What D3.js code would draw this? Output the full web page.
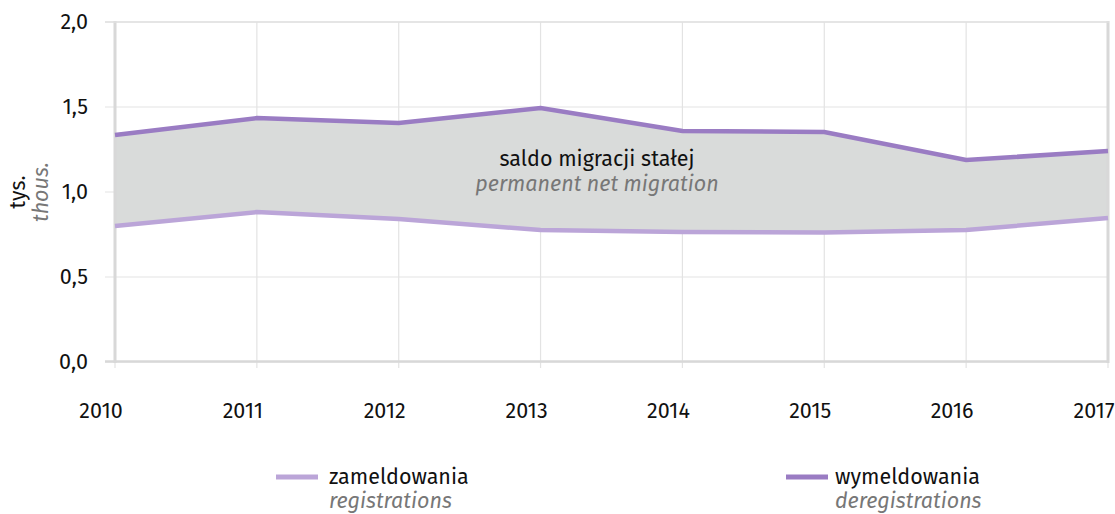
<!DOCTYPE html>
<html><head><meta charset="utf-8">
<script src="https://cdn.jsdelivr.net/npm/d3@7"></script>
<style>
body{margin:0;background:#fff;}
svg{font-family:"Fira Sans","Open Sans","Noto Sans",sans-serif;}
</style></head>
<body><svg id="c" width="1115" height="514"></svg>
<script>
const years = [2010,2011,2012,2013,2014,2015,2016,2017];
const registrations = [0.80,0.882,0.841,0.776,0.765,0.762,0.776,0.847];
const deregistrations = [1.335,1.435,1.406,1.494,1.359,1.353,1.188,1.241];
const yTicks = [0,0.5,1.0,1.5,2.0];

const FS = 21.5;
const svg = d3.select("#c");
const x = d3.scaleLinear().domain([2010,2017]).range([115,1108]);
const y = d3.scaleLinear().domain([0,2]).range([362,22]);
const fmt = d => d.toFixed(1).replace(".", ",");

// grid
svg.append("g").selectAll("line").data(yTicks).join("line")
  .attr("x1",105).attr("x2",1108).attr("y1",d=>y(d)).attr("y2",d=>y(d))
  .attr("stroke","#e3e3e3").attr("stroke-width",1.2);
svg.append("g").selectAll("line").data(years).join("line")
  .attr("x1",d=>x(d)).attr("x2",d=>x(d)).attr("y1",22).attr("y2",368)
  .attr("stroke","#e3e3e3").attr("stroke-width",1.2);

// area
const data = years.map((yr,i)=>({yr, lo:registrations[i], hi:deregistrations[i]}));
svg.append("path").datum(data)
  .attr("d", d3.area().x(d=>x(d.yr)).y0(d=>y(d.lo)).y1(d=>y(d.hi)))
  .attr("fill","#d9dbda");

// axes frame
svg.append("line").attr("x1",115).attr("x2",115).attr("y1",21).attr("y2",363).attr("stroke","#d8d8d8").attr("stroke-width",3);
svg.append("line").attr("x1",1108).attr("x2",1108).attr("y1",21).attr("y2",363).attr("stroke","#d8d8d8").attr("stroke-width",3);
svg.append("line").attr("x1",105).attr("x2",1109).attr("y1",361.5).attr("y2",361.5).attr("stroke","#d8d8d8").attr("stroke-width",2.5);
svg.append("line").attr("x1",105).attr("x2",1109).attr("y1",22).attr("y2",22).attr("stroke","#e0e0e0").attr("stroke-width",1.5);

// lines
svg.append("path").datum(registrations)
  .attr("d", d3.line().x((d,i)=>x(years[i])).y(d=>y(d)))
  .attr("fill","none").attr("stroke","#bba5d8").attr("stroke-width",4.5);
svg.append("path").datum(deregistrations)
  .attr("d", d3.line().x((d,i)=>x(years[i])).y(d=>y(d)))
  .attr("fill","none").attr("stroke","#9a7cc3").attr("stroke-width",4.5);

// y tick labels
svg.append("g").selectAll("text").data(yTicks).join("text")
  .attr("x",88).attr("y",d=>y(d)+7).attr("text-anchor","end")
  .attr("font-size",FS).attr("fill","#111").text(fmt);

// x tick labels
svg.append("g").selectAll("text").data(years).join("text")
  .attr("x",d=>x(d)-14).attr("y",418).attr("text-anchor","middle")
  .attr("font-size",FS).attr("fill","#111").text(d=>d);

// y axis title
const yt = svg.append("g").attr("transform","translate(0,192) rotate(-90)");
yt.append("text").attr("x",0).attr("y",25).attr("text-anchor","middle").attr("font-size",FS).attr("fill","#111").text("tys.");
yt.append("text").attr("x",0).attr("y",48).attr("text-anchor","middle").attr("font-size",FS).attr("font-style","italic").attr("fill","#777").text("thous.");

// center label
svg.append("text").attr("x",597).attr("y",166).attr("text-anchor","middle").attr("font-size",FS).attr("fill","#111").text("saldo migracji stałej");
svg.append("text").attr("x",597).attr("y",191).attr("text-anchor","middle").attr("font-size",FS).attr("font-style","italic").attr("fill","#777").text("permanent net migration");

// legend
const legend = [
  {x:276, tx:329, color:"#bba5d8", pl:"zameldowania", en:"registrations"},
  {x:786, tx:835, color:"#9a7cc3", pl:"wymeldowania", en:"deregistrations"}
];
const lg = svg.append("g").selectAll("g").data(legend).join("g");
lg.append("line").attr("x1",d=>d.x).attr("x2",d=>d.x+42).attr("y1",477).attr("y2",477)
  .attr("stroke",d=>d.color).attr("stroke-width",5);
lg.append("text").attr("x",d=>d.tx).attr("y",484).attr("font-size",FS).attr("fill","#111").text(d=>d.pl);
lg.append("text").attr("x",d=>d.tx).attr("y",508).attr("font-size",FS).attr("font-style","italic").attr("fill","#777").text(d=>d.en);
</script></body></html>
